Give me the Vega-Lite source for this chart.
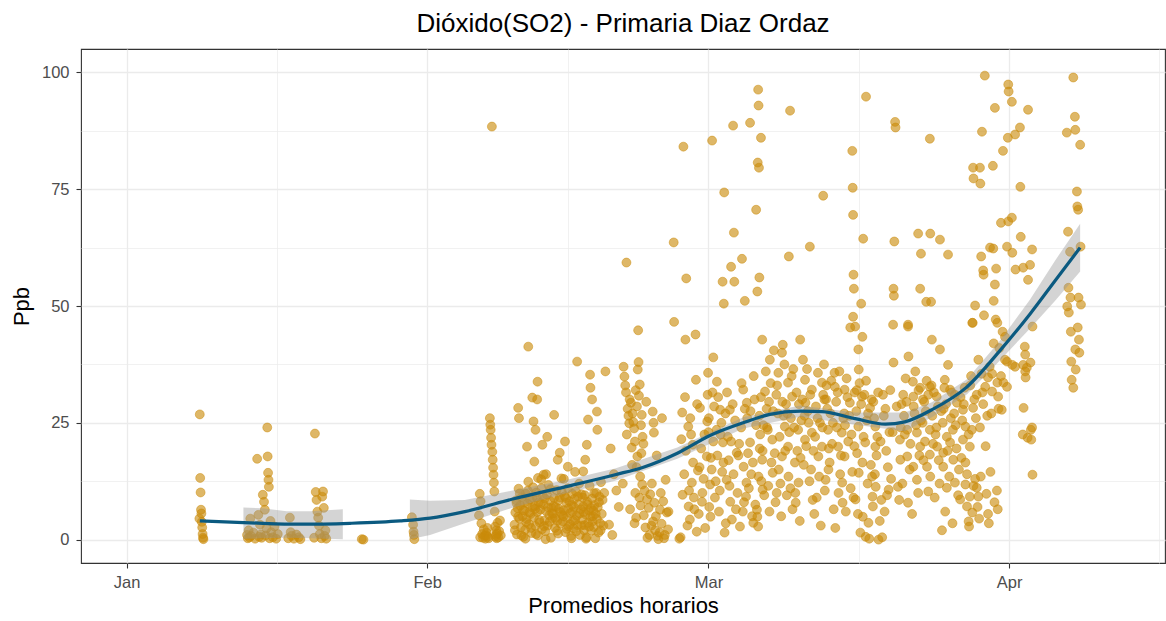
{
  "$schema": "https://vega.github.io/schema/vega-lite/v6.json",
  "autosize": {"type": "none"},
  "width": 1084,
  "height": 514,
  "padding": {"left": 81, "top": 49, "right": 1, "bottom": 58},
  "background": "white",
  "title": {"text": "Dióxido(SO2) - Primaria Diaz Ordaz", "font": "Liberation Sans", "fontSize": 26, "fontWeight": "normal", "color": "#000000", "anchor": "middle", "baseline": "alphabetic", "offset": 17.5, "dy": 26},
  "datasets": {
    "pts": [
      {"t":"2020-01-08T12:00","v":4.5},{"t":"2020-01-08T13:00","v":26.8},{"t":"2020-01-08T14:00","v":13.2},{"t":"2020-01-08T15:00","v":10.1},{"t":"2020-01-08T16:00","v":6.4},{"t":"2020-01-08T17:00","v":5.6},{"t":"2020-01-08T18:00","v":3.8},{"t":"2020-01-08T19:00","v":2.6},{"t":"2020-01-08T20:00","v":1.2},{"t":"2020-01-08T21:00","v":0.4},{"t":"2020-01-08T22:00","v":0.1},
      {"t":"2020-01-13T10:00","v":1.0},{"t":"2020-01-13T12:00","v":0.3},{"t":"2020-01-13T14:00","v":2.0},{"t":"2020-01-13T16:00","v":0.5},{"t":"2020-01-13T18:00","v":4.5},{"t":"2020-01-13T20:00","v":0.8},
      {"t":"2020-01-14T02:00","v":1.5},{"t":"2020-01-14T06:00","v":0.2},{"t":"2020-01-14T11:00","v":17.3},{"t":"2020-01-14T14:00","v":5.3},{"t":"2020-01-14T16:00","v":0.6},{"t":"2020-01-14T18:00","v":3.2},{"t":"2020-01-14T20:00","v":1.1},{"t":"2020-01-14T22:00","v":0.4},
      {"t":"2020-01-15T01:00","v":9.6},{"t":"2020-01-15T04:00","v":8.1},{"t":"2020-01-15T06:00","v":6.4},{"t":"2020-01-15T08:00","v":0.9},{"t":"2020-01-15T10:00","v":2.4},{"t":"2020-01-15T12:00","v":24.0},{"t":"2020-01-15T13:00","v":17.8},{"t":"2020-01-15T14:00","v":14.3},{"t":"2020-01-15T15:00","v":12.8},{"t":"2020-01-15T16:00","v":11.3},{"t":"2020-01-15T18:00","v":0.3},{"t":"2020-01-15T20:00","v":4.0},{"t":"2020-01-15T22:00","v":1.6},
      {"t":"2020-01-16T02:00","v":0.5},{"t":"2020-01-16T06:00","v":2.8},{"t":"2020-01-16T10:00","v":0.2},{"t":"2020-01-16T14:00","v":1.2},
      {"t":"2020-01-17T16:00","v":0.3},{"t":"2020-01-17T20:00","v":4.7},{"t":"2020-01-17T22:00","v":1.6},{"t":"2020-01-18T00:00","v":0.8},{"t":"2020-01-18T06:00","v":0.2},{"t":"2020-01-18T12:00","v":1.1},{"t":"2020-01-18T18:00","v":0.5},{"t":"2020-01-18T22:00","v":0.1},
      {"t":"2020-01-20T08:00","v":0.4},{"t":"2020-01-20T10:00","v":22.7},{"t":"2020-01-20T12:00","v":10.2},{"t":"2020-01-20T14:00","v":8.5},{"t":"2020-01-20T16:00","v":6.0},{"t":"2020-01-20T18:00","v":4.7},{"t":"2020-01-20T20:00","v":3.0},{"t":"2020-01-20T22:00","v":1.2},
      {"t":"2020-01-21T02:00","v":0.3},{"t":"2020-01-21T04:00","v":9.2},{"t":"2020-01-21T06:00","v":10.3},{"t":"2020-01-21T08:00","v":6.8},{"t":"2020-01-21T10:00","v":0.8},{"t":"2020-01-21T12:00","v":2.0},{"t":"2020-01-21T14:00","v":0.2},
      {"t":"2020-01-25T06:00","v":0.1},{"t":"2020-01-25T10:00","v":0.0},
      {"t":"2020-01-30T10:00","v":4.8},{"t":"2020-01-30T13:00","v":3.2},{"t":"2020-01-30T14:00","v":1.7},{"t":"2020-01-30T15:00","v":1.0},{"t":"2020-01-30T16:00","v":0.1},
      {"t":"2020-02-06T08:00","v":5.2},{"t":"2020-02-06T10:00","v":9.8},{"t":"2020-02-06T12:00","v":8.2},{"t":"2020-02-06T14:00","v":3.5},{"t":"2020-02-06T16:00","v":1.2},{"t":"2020-02-06T18:00","v":0.4},{"t":"2020-02-06T20:00","v":2.2},{"t":"2020-02-06T22:00","v":0.8},
      {"t":"2020-02-07T00:00","v":0.2},{"t":"2020-02-07T03:00","v":1.5},{"t":"2020-02-07T06:00","v":0.6},{"t":"2020-02-07T11:00","v":26.0},{"t":"2020-02-07T12:00","v":24.6},{"t":"2020-02-07T13:00","v":23.5},{"t":"2020-02-07T14:00","v":21.8},{"t":"2020-02-07T15:00","v":20.3},{"t":"2020-02-07T16:00","v":88.4},{"t":"2020-02-07T17:00","v":18.8},{"t":"2020-02-07T18:00","v":17.1},{"t":"2020-02-07T19:00","v":15.4},{"t":"2020-02-07T20:00","v":13.9},{"t":"2020-02-07T21:00","v":12.2},{"t":"2020-02-07T22:00","v":10.3},{"t":"2020-02-07T23:00","v":6.0},
      {"t":"2020-02-08T00:00","v":2.8},{"t":"2020-02-08T02:00","v":1.0},{"t":"2020-02-08T04:00","v":0.3},{"t":"2020-02-08T06:00","v":3.6},{"t":"2020-02-08T08:00","v":0.5},{"t":"2020-02-08T10:00","v":1.8},{"t":"2020-02-08T12:00","v":4.1},{"t":"2020-02-08T14:00","v":0.9},
      {"t":"2020-02-06T11:00","v":0.5},{"t":"2020-02-07T02:00","v":0.9},{"t":"2020-02-07T05:00","v":2.5},{"t":"2020-02-07T08:00","v":0.3},{"t":"2020-02-08T01:00","v":0.6},{"t":"2020-02-08T03:00","v":2.0},{"t":"2020-02-08T05:00","v":1.3},
      {"t":"2020-02-10T09:00","v":28.2},{"t":"2020-02-10T11:00","v":26.0},{"t":"2020-02-11T20:00","v":30.4},{"t":"2020-02-12T08:00","v":30.0},{"t":"2020-02-12T09:00","v":33.8},{"t":"2020-02-11T23:00","v":25.3},{"t":"2020-02-12T04:00","v":23.5},{"t":"2020-02-13T09:00","v":22.0},{"t":"2020-02-11T07:00","v":19.9},{"t":"2020-02-12T01:00","v":16.7},{"t":"2020-02-12T21:00","v":20.3},{"t":"2020-02-14T02:00","v":26.7},{"t":"2020-02-11T10:00","v":41.3},
      {"t":"2020-02-16T11:00","v":38.1},{"t":"2020-02-19T09:00","v":36.0},{"t":"2020-02-17T19:00","v":35.3},{"t":"2020-02-17T20:00","v":32.5},{"t":"2020-02-18T00:00","v":30.0},{"t":"2020-02-18T12:00","v":27.4},{"t":"2020-02-17T14:00","v":25.7},{"t":"2020-02-18T13:00","v":23.5},{"t":"2020-02-17T11:00","v":20.3},{"t":"2020-02-17T07:00","v":17.1},{"t":"2020-02-17T02:00","v":14.6},{"t":"2020-02-15T05:00","v":21.0},{"t":"2020-02-14T16:00","v":18.6},{"t":"2020-02-14T11:00","v":17.1},{"t":"2020-02-15T12:00","v":15.6},{"t":"2020-02-13T00:00","v":13.9},{"t":"2020-02-12T10:00","v":13.2},{"t":"2020-02-13T06:00","v":14.0},{"t":"2020-02-16T06:00","v":14.5},{"t":"2020-02-15T02:00","v":13.0},
      {"t":"2020-02-10T00:00","v":3.2},{"t":"2020-02-10T02:00","v":5.8},{"t":"2020-02-10T04:00","v":8.4},{"t":"2020-02-10T06:00","v":1.1},{"t":"2020-02-10T08:00","v":6.7},{"t":"2020-02-10T10:00","v":10.9},{"t":"2020-02-10T12:00","v":4.5},{"t":"2020-02-10T14:00","v":7.3},{"t":"2020-02-10T16:00","v":2.6},{"t":"2020-02-10T18:00","v":9.1},{"t":"2020-02-10T20:00","v":5.0},{"t":"2020-02-10T22:00","v":0.6},
      {"t":"2020-02-11T00:00","v":6.2},{"t":"2020-02-11T02:00","v":2.1},{"t":"2020-02-11T04:00","v":9.8},{"t":"2020-02-11T06:00","v":4.4},{"t":"2020-02-11T08:00","v":7.7},{"t":"2020-02-11T10:00","v":12.4},{"t":"2020-02-11T12:00","v":3.3},{"t":"2020-02-11T14:00","v":8.6},{"t":"2020-02-11T16:00","v":5.5},{"t":"2020-02-11T18:00","v":1.4},{"t":"2020-02-11T20:00","v":6.9},{"t":"2020-02-11T22:00","v":11.2},{"t":"2020-02-11T03:00","v":0.2},
      {"t":"2020-02-12T00:00","v":4.8},{"t":"2020-02-12T02:00","v":7.2},{"t":"2020-02-12T04:00","v":2.9},{"t":"2020-02-12T06:00","v":10.1},{"t":"2020-02-12T08:00","v":5.9},{"t":"2020-02-12T10:00","v":0.9},{"t":"2020-02-12T12:00","v":8.0},{"t":"2020-02-12T14:00","v":3.7},{"t":"2020-02-12T16:00","v":6.4},{"t":"2020-02-12T18:00","v":12.9},{"t":"2020-02-12T20:00","v":2.2},{"t":"2020-02-12T22:00","v":9.4},
      {"t":"2020-02-13T00:00","v":7.5},{"t":"2020-02-13T02:00","v":4.1},{"t":"2020-02-13T04:00","v":1.8},{"t":"2020-02-13T06:00","v":6.1},{"t":"2020-02-13T08:00","v":9.6},{"t":"2020-02-13T10:00","v":3.0},{"t":"2020-02-13T12:00","v":11.7},{"t":"2020-02-13T14:00","v":5.2},{"t":"2020-02-13T16:00","v":8.3},{"t":"2020-02-13T18:00","v":0.4},{"t":"2020-02-13T20:00","v":6.8},{"t":"2020-02-13T22:00","v":4.6},{"t":"2020-02-13T05:00","v":0.1},
      {"t":"2020-02-14T00:00","v":5.6},{"t":"2020-02-14T02:00","v":8.9},{"t":"2020-02-14T04:00","v":2.5},{"t":"2020-02-14T06:00","v":7.0},{"t":"2020-02-14T08:00","v":10.6},{"t":"2020-02-14T10:00","v":4.0},{"t":"2020-02-14T12:00","v":1.3},{"t":"2020-02-14T14:00","v":6.6},{"t":"2020-02-14T16:00","v":9.0},{"t":"2020-02-14T18:00","v":3.4},{"t":"2020-02-14T20:00","v":13.1},{"t":"2020-02-14T22:00","v":5.3},
      {"t":"2020-02-15T00:00","v":3.9},{"t":"2020-02-15T02:00","v":6.3},{"t":"2020-02-15T04:00","v":9.3},{"t":"2020-02-15T06:00","v":1.6},{"t":"2020-02-15T08:00","v":7.9},{"t":"2020-02-15T10:00","v":4.7},{"t":"2020-02-15T12:00","v":11.0},{"t":"2020-02-15T14:00","v":2.8},{"t":"2020-02-15T16:00","v":8.2},{"t":"2020-02-15T18:00","v":5.7},{"t":"2020-02-15T20:00","v":0.8},{"t":"2020-02-15T22:00","v":7.4},{"t":"2020-02-15T21:00","v":0.3},
      {"t":"2020-02-16T00:00","v":6.0},{"t":"2020-02-16T02:00","v":2.4},{"t":"2020-02-16T04:00","v":8.7},{"t":"2020-02-16T06:00","v":4.2},{"t":"2020-02-16T08:00","v":10.3},{"t":"2020-02-16T10:00","v":5.1},{"t":"2020-02-16T12:00","v":3.1},{"t":"2020-02-16T14:00","v":7.6},{"t":"2020-02-16T16:00","v":12.0},{"t":"2020-02-16T18:00","v":1.0},{"t":"2020-02-16T20:00","v":6.5},{"t":"2020-02-16T22:00","v":9.7},
      {"t":"2020-02-17T00:00","v":4.3},{"t":"2020-02-17T02:00","v":7.1},{"t":"2020-02-17T04:00","v":2.0},{"t":"2020-02-17T06:00","v":9.5},{"t":"2020-02-17T08:00","v":5.4},{"t":"2020-02-17T10:00","v":0.5},{"t":"2020-02-17T12:00","v":8.1},{"t":"2020-02-17T14:00","v":3.6},{"t":"2020-02-17T16:00","v":6.2},{"t":"2020-02-17T18:00","v":11.5},{"t":"2020-02-17T20:00","v":4.9},{"t":"2020-02-17T22:00","v":1.9},{"t":"2020-02-17T09:00","v":0.2},
      {"t":"2020-02-18T00:00","v":8.8},{"t":"2020-02-18T02:00","v":5.0},{"t":"2020-02-18T04:00","v":2.7},{"t":"2020-02-18T06:00","v":7.4},{"t":"2020-02-18T08:00","v":0.3},{"t":"2020-02-18T10:00","v":10.0},{"t":"2020-02-18T12:00","v":4.4},{"t":"2020-02-18T14:00","v":6.9},{"t":"2020-02-18T16:00","v":1.5},{"t":"2020-02-18T18:00","v":9.2},{"t":"2020-02-18T20:00","v":3.5},{"t":"2020-02-18T22:00","v":12.3},
      {"t":"2020-02-10T01:00","v":2.0},{"t":"2020-02-10T05:00","v":7.8},{"t":"2020-02-10T09:00","v":4.9},{"t":"2020-02-10T13:00","v":9.9},{"t":"2020-02-10T17:00","v":0.9},{"t":"2020-02-10T21:00","v":6.3},
      {"t":"2020-02-11T01:00","v":8.0},{"t":"2020-02-11T05:00","v":3.7},{"t":"2020-02-11T09:00","v":10.5},{"t":"2020-02-11T13:00","v":5.8},{"t":"2020-02-11T17:00","v":2.5},{"t":"2020-02-11T21:00","v":9.0},
      {"t":"2020-02-12T03:00","v":6.6},{"t":"2020-02-12T05:00","v":1.2},{"t":"2020-02-12T07:00","v":9.0},{"t":"2020-02-12T13:00","v":4.2},{"t":"2020-02-12T17:00","v":7.8},{"t":"2020-02-12T19:00","v":11.0},
      {"t":"2020-02-13T01:00","v":2.9},{"t":"2020-02-13T03:00","v":8.8},{"t":"2020-02-13T11:00","v":6.9},{"t":"2020-02-13T15:00","v":3.8},{"t":"2020-02-13T17:00","v":10.8},{"t":"2020-02-13T21:00","v":5.6},
      {"t":"2020-02-14T01:00","v":7.2},{"t":"2020-02-14T05:00","v":4.6},{"t":"2020-02-14T09:00","v":1.9},{"t":"2020-02-14T13:00","v":8.4},{"t":"2020-02-14T17:00","v":5.9},{"t":"2020-02-14T21:00","v":10.2},
      {"t":"2020-02-15T01:00","v":5.0},{"t":"2020-02-15T07:00","v":8.9},{"t":"2020-02-15T09:00","v":2.3},{"t":"2020-02-15T13:00","v":6.7},{"t":"2020-02-15T17:00","v":3.3},{"t":"2020-02-15T23:00","v":9.8},
      {"t":"2020-02-16T01:00","v":4.0},{"t":"2020-02-16T03:00","v":7.0},{"t":"2020-02-16T09:00","v":1.8},{"t":"2020-02-16T13:00","v":9.2},{"t":"2020-02-16T17:00","v":5.6},{"t":"2020-02-16T21:00","v":3.0},
      {"t":"2020-02-17T01:00","v":9.0},{"t":"2020-02-17T03:00","v":5.9},{"t":"2020-02-17T05:00","v":3.1},{"t":"2020-02-17T13:00","v":7.5},{"t":"2020-02-17T17:00","v":2.8},{"t":"2020-02-17T21:00","v":6.8},
      {"t":"2020-02-18T01:00","v":3.9},{"t":"2020-02-18T03:00","v":6.2},{"t":"2020-02-18T05:00","v":9.9},{"t":"2020-02-18T09:00","v":5.5},{"t":"2020-02-18T17:00","v":8.0},{"t":"2020-02-18T21:00","v":2.0},
      {"t":"2020-02-19T00:00","v":5.5},{"t":"2020-02-19T02:00","v":8.5},{"t":"2020-02-19T04:00","v":3.0},{"t":"2020-02-19T06:00","v":10.0},
      {"t":"2020-02-19T18:00","v":3.2},{"t":"2020-02-19T22:00","v":19.5},{"t":"2020-02-20T02:00","v":1.0},{"t":"2020-02-20T06:00","v":14.0},{"t":"2020-02-20T12:00","v":10.5},{"t":"2020-02-20T18:00","v":7.0},
      {"t":"2020-02-21T06:00","v":37.0},{"t":"2020-02-21T08:00","v":34.9},{"t":"2020-02-21T10:00","v":33.0},{"t":"2020-02-21T12:00","v":31.5},{"t":"2020-02-21T13:00","v":59.3},{"t":"2020-02-21T14:00","v":22.5},{"t":"2020-02-21T16:00","v":28.0},{"t":"2020-02-21T18:00","v":26.5},{"t":"2020-02-21T20:00","v":24.9},{"t":"2020-02-21T21:00","v":30.0},
      {"t":"2020-02-22T00:00","v":29.3},{"t":"2020-02-22T02:00","v":19.7},{"t":"2020-02-22T04:00","v":27.0},{"t":"2020-02-22T06:00","v":25.2},{"t":"2020-02-22T08:00","v":23.8},{"t":"2020-02-22T10:00","v":21.0},{"t":"2020-02-22T11:00","v":10.0},{"t":"2020-02-22T12:00","v":32.0},{"t":"2020-02-22T13:00","v":4.7},{"t":"2020-02-22T14:00","v":15.5},{"t":"2020-02-22T15:00","v":28.5},{"t":"2020-02-22T16:00","v":17.8},{"t":"2020-02-22T17:00","v":36.4},{"t":"2020-02-22T18:00","v":44.8},{"t":"2020-02-22T19:00","v":38.0},{"t":"2020-02-22T20:00","v":30.8},{"t":"2020-02-22T21:00","v":9.0},{"t":"2020-02-22T22:00","v":33.2},{"t":"2020-02-22T23:00","v":13.5},
      {"t":"2020-02-23T00:00","v":7.3},{"t":"2020-02-23T01:00","v":24.5},{"t":"2020-02-23T03:00","v":26.7},{"t":"2020-02-23T04:00","v":11.8},{"t":"2020-02-23T05:00","v":22.0},{"t":"2020-02-23T07:00","v":20.5},{"t":"2020-02-23T08:00","v":5.2},{"t":"2020-02-23T12:00","v":2.6},{"t":"2020-02-23T16:00","v":8.6},{"t":"2020-02-23T17:00","v":0.4},{"t":"2020-02-23T20:00","v":6.8},{"t":"2020-02-23T22:00","v":1.0},
      {"t":"2020-02-24T00:00","v":9.7},{"t":"2020-02-24T03:00","v":3.0},{"t":"2020-02-24T06:00","v":27.4},{"t":"2020-02-24T07:00","v":3.9},{"t":"2020-02-24T08:00","v":25.0},{"t":"2020-02-24T09:00","v":22.9},{"t":"2020-02-24T10:00","v":7.9},{"t":"2020-02-24T14:00","v":5.0},{"t":"2020-02-24T18:00","v":0.8},{"t":"2020-02-24T20:00","v":0.1},{"t":"2020-02-24T23:00","v":1.5},
      {"t":"2020-02-25T00:00","v":6.4},{"t":"2020-02-25T04:00","v":3.4},{"t":"2020-02-25T05:00","v":26.0},{"t":"2020-02-25T08:00","v":8.2},{"t":"2020-02-25T10:00","v":0.3},{"t":"2020-02-25T14:00","v":12.8},{"t":"2020-02-25T17:00","v":5.8},{"t":"2020-02-25T20:00","v":2.2},{"t":"2020-02-25T21:00","v":6.0},
      {"t":"2020-02-21T04:00","v":12.0},{"t":"2020-02-21T22:00","v":6.5},{"t":"2020-02-22T03:00","v":16.0},{"t":"2020-02-22T09:00","v":3.5},{"t":"2020-02-23T02:00","v":18.5},{"t":"2020-02-23T10:00","v":10.5},{"t":"2020-02-23T14:00","v":29.5},{"t":"2020-02-24T04:00","v":12.0},{"t":"2020-02-24T12:00","v":2.0},{"t":"2020-02-24T16:00","v":18.0},{"t":"2020-02-25T02:00","v":10.0},{"t":"2020-02-25T12:00","v":1.0},
      {"t":"2020-02-26T10:00","v":63.6},{"t":"2020-02-26T11:00","v":46.6},{"t":"2020-02-27T10:00","v":84.1},{"t":"2020-02-27T17:00","v":55.9},{"t":"2020-02-27T15:00","v":42.8},{"t":"2020-02-28T16:00","v":43.9},
      {"t":"2020-02-29T23:00","v":35.7},{"t":"2020-03-01T21:00","v":33.8},{"t":"2020-02-28T17:00","v":34.2},{"t":"2020-02-29T22:00","v":31.0},{"t":"2020-03-04T14:00","v":32.1},{"t":"2020-03-04T23:00","v":29.3},{"t":"2020-02-27T07:00","v":27.2},{"t":"2020-02-29T03:00","v":28.2},{"t":"2020-03-02T05:00","v":27.8},{"t":"2020-03-03T05:00","v":27.8},{"t":"2020-02-27T22:00","v":24.2},{"t":"2020-02-29T21:00","v":25.3},{"t":"2020-03-01T20:00","v":23.5},{"t":"2020-02-28T09:00","v":20.3},{"t":"2020-03-01T12:00","v":21.0},{"t":"2020-03-02T12:00","v":20.8},{"t":"2020-02-29T20:00","v":17.8},{"t":"2020-03-03T22:00","v":18.6},{"t":"2020-03-05T07:00","v":20.8},{"t":"2020-02-28T10:00","v":16.5},{"t":"2020-03-02T13:00","v":16.5},{"t":"2020-03-04T15:00","v":15.6},{"t":"2020-03-05T14:00","v":16.5},{"t":"2020-02-28T07:00","v":12.2},{"t":"2020-03-01T04:00","v":11.8},{"t":"2020-03-02T21:00","v":12.8},{"t":"2020-03-04T22:00","v":12.2},{"t":"2020-02-27T08:00","v":9.6},{"t":"2020-02-27T23:00","v":7.1},{"t":"2020-02-29T08:00","v":8.1},{"t":"2020-03-03T06:00","v":8.1},{"t":"2020-03-04T21:00","v":9.2},{"t":"2020-02-28T02:00","v":4.3},{"t":"2020-02-28T19:00","v":1.7},{"t":"2020-03-01T05:00","v":4.9},{"t":"2020-03-03T10:00","v":4.3},{"t":"2020-03-04T13:00","v":6.0},{"t":"2020-03-05T15:00","v":3.6},{"t":"2020-03-06T00:00","v":6.4},
      {"t":"2020-02-27T12:00","v":14.0},{"t":"2020-02-27T16:00","v":19.0},{"t":"2020-02-27T20:00","v":3.0},{"t":"2020-02-28T00:00","v":10.5},{"t":"2020-02-28T05:00","v":22.5},{"t":"2020-02-28T13:00","v":6.5},{"t":"2020-02-28T22:00","v":14.8},{"t":"2020-02-29T00:00","v":5.5},{"t":"2020-02-29T06:00","v":19.5},{"t":"2020-02-29T12:00","v":13.0},{"t":"2020-02-29T16:00","v":2.5},{"t":"2020-03-01T00:00","v":23.0},{"t":"2020-03-01T08:00","v":15.0},{"t":"2020-03-01T16:00","v":9.0},{"t":"2020-03-02T00:00","v":30.5},{"t":"2020-03-02T02:00","v":6.0},{"t":"2020-03-02T08:00","v":25.0},{"t":"2020-03-02T16:00","v":1.5},{"t":"2020-03-03T00:00","v":22.0},{"t":"2020-03-03T14:00","v":14.0},{"t":"2020-03-03T18:00","v":25.5},{"t":"2020-03-04T00:00","v":10.0},{"t":"2020-03-04T06:00","v":2.8},{"t":"2020-03-04T09:00","v":24.0},{"t":"2020-03-05T00:00","v":26.0},{"t":"2020-03-05T04:00","v":11.0},{"t":"2020-03-05T20:00","v":7.5},{"t":"2020-03-05T22:00","v":24.5},{"t":"2020-03-06T04:00","v":13.5},{"t":"2020-03-06T10:00","v":30.5},{"t":"2020-03-06T14:00","v":19.0},{"t":"2020-03-06T18:00","v":9.5},{"t":"2020-02-29T09:00","v":10.0},{"t":"2020-03-01T22:00","v":18.0},{"t":"2020-03-03T02:00","v":17.0},{"t":"2020-03-02T19:00","v":3.5},{"t":"2020-02-27T03:00","v":0.5},{"t":"2020-02-27T00:00","v":0.2},{"t":"2020-03-01T12:00","v":39.0},
      {"t":"2020-02-27T05:00","v":21.5},{"t":"2020-02-27T14:00","v":30.5},{"t":"2020-02-28T03:00","v":26.0},{"t":"2020-02-28T12:00","v":9.0},{"t":"2020-02-28T20:00","v":29.0},{"t":"2020-02-29T02:00","v":15.5},{"t":"2020-02-29T14:00","v":22.5},{"t":"2020-03-01T02:00","v":7.0},{"t":"2020-03-01T14:00","v":28.5},{"t":"2020-03-02T04:00","v":10.5},{"t":"2020-03-02T22:00","v":31.5},{"t":"2020-03-03T08:00","v":21.0},{"t":"2020-03-04T02:00","v":18.0},{"t":"2020-03-04T18:00","v":28.0},{"t":"2020-03-05T10:00","v":14.0},{"t":"2020-03-05T18:00","v":30.0},{"t":"2020-03-06T08:00","v":22.5},
      {"t":"2020-03-01T01:00","v":26.0},{"t":"2020-03-01T06:00","v":17.5},{"t":"2020-03-01T10:00","v":31.5},{"t":"2020-03-01T18:00","v":12.5},{"t":"2020-03-02T06:00","v":22.5},{"t":"2020-03-02T10:00","v":14.5},{"t":"2020-03-02T18:00","v":27.0},{"t":"2020-03-03T04:00","v":11.5},{"t":"2020-03-03T12:00","v":29.0},{"t":"2020-03-03T20:00","v":6.5},{"t":"2020-03-04T04:00","v":20.5},{"t":"2020-03-04T10:00","v":33.5},{"t":"2020-03-04T16:00","v":8.0},{"t":"2020-03-05T02:00","v":18.5},{"t":"2020-03-05T08:00","v":27.5},{"t":"2020-03-05T12:00","v":5.0},{"t":"2020-03-05T16:00","v":35.0},
      {"t":"2020-03-01T09:00","v":85.4},{"t":"2020-03-03T13:00","v":88.6},{"t":"2020-03-05T07:00","v":89.2},{"t":"2020-03-06T03:00","v":96.3},{"t":"2020-03-06T04:00","v":92.9},{"t":"2020-03-06T10:00","v":86.0},{"t":"2020-03-06T02:00","v":80.7},{"t":"2020-03-06T05:00","v":79.6},{"t":"2020-03-02T15:00","v":74.3},{"t":"2020-03-05T22:00","v":70.6},{"t":"2020-03-03T15:00","v":65.7},{"t":"2020-03-04T11:00","v":60.1},{"t":"2020-03-03T08:00","v":58.4},{"t":"2020-03-02T11:00","v":55.2},{"t":"2020-03-03T16:00","v":55.2},{"t":"2020-03-06T06:00","v":56.1},{"t":"2020-03-06T01:00","v":53.1},{"t":"2020-03-04T18:00","v":51.1},{"t":"2020-03-02T14:00","v":50.5},
      {"t":"2020-03-09T10:00","v":91.8},{"t":"2020-03-17T06:00","v":94.8},{"t":"2020-03-20T06:00","v":89.4},{"t":"2020-03-20T07:00","v":88.2},{"t":"2020-03-23T20:00","v":85.8},{"t":"2020-03-29T12:00","v":99.3},{"t":"2020-03-30T13:00","v":92.4},{"t":"2020-03-31T21:00","v":86.0},{"t":"2020-03-29T05:00","v":87.3},{"t":"2020-03-15T20:00","v":83.2},{"t":"2020-03-15T21:00","v":75.3},{"t":"2020-03-15T22:00","v":69.5},{"t":"2020-03-31T09:00","v":83.2},{"t":"2020-03-12T20:00","v":73.6},{"t":"2020-03-28T07:00","v":79.6},{"t":"2020-03-28T08:00","v":77.3},{"t":"2020-03-29T00:00","v":79.6},{"t":"2020-03-29T01:00","v":76.2},{"t":"2020-03-30T08:00","v":80.0},{"t":"2020-03-31T04:00","v":67.8},{"t":"2020-03-31T22:00","v":68.1},
      {"t":"2020-03-16T23:00","v":64.4},{"t":"2020-03-20T04:00","v":63.8},{"t":"2020-03-22T15:00","v":65.5},{"t":"2020-03-23T21:00","v":65.5},{"t":"2020-03-24T21:00","v":64.2},{"t":"2020-03-11T11:00","v":62.7},{"t":"2020-03-09T07:00","v":60.6},{"t":"2020-03-22T22:00","v":61.2},{"t":"2020-03-25T17:00","v":61.0},{"t":"2020-03-29T03:00","v":60.6},{"t":"2020-03-30T01:00","v":62.5},{"t":"2020-03-30T09:00","v":62.3},{"t":"2020-03-31T19:00","v":62.7},{"t":"2020-03-29T08:00","v":57.6},{"t":"2020-03-29T09:00","v":56.7},{"t":"2020-03-15T23:00","v":56.7},{"t":"2020-03-16T00:00","v":53.7},{"t":"2020-03-20T02:00","v":53.7},{"t":"2020-03-20T03:00","v":52.2},{"t":"2020-03-22T20:00","v":53.7},{"t":"2020-03-30T13:00","v":54.6},{"t":"2020-03-16T18:00","v":50.5},{"t":"2020-03-23T11:00","v":50.9},{"t":"2020-03-23T23:00","v":50.9},{"t":"2020-03-28T12:00","v":50.1},{"t":"2020-03-30T10:00","v":51.1},{"t":"2020-03-15T22:00","v":47.7},{"t":"2020-03-20T01:00","v":46.0},{"t":"2020-03-21T14:00","v":46.0},{"t":"2020-03-28T06:00","v":46.4},{"t":"2020-03-30T15:00","v":47.1},{"t":"2020-03-15T15:00","v":45.4},
      {"t":"2020-03-06T13:00","v":42.8},{"t":"2020-03-08T16:00","v":41.7},{"t":"2020-03-10T11:00","v":42.8},{"t":"2020-03-07T08:00","v":38.5},{"t":"2020-03-08T14:00","v":40.0},{"t":"2020-03-10T18:00","v":38.5},{"t":"2020-03-08T05:00","v":35.7},{"t":"2020-03-09T05:00","v":33.6},{"t":"2020-03-06T20:00","v":31.7},{"t":"2020-03-08T00:00","v":31.0},{"t":"2020-03-09T15:00","v":30.6},{"t":"2020-03-10T23:00","v":34.2},{"t":"2020-03-12T07:00","v":35.7},{"t":"2020-03-11T16:00","v":32.1},{"t":"2020-03-12T17:00","v":33.6},{"t":"2020-03-14T00:00","v":35.7},{"t":"2020-03-14T01:00","v":32.7},{"t":"2020-03-15T01:00","v":32.1},{"t":"2020-03-16T02:00","v":31.5},{"t":"2020-03-16T20:00","v":30.6},{"t":"2020-03-15T14:00","v":29.3},{"t":"2020-03-12T23:00","v":30.0},{"t":"2020-03-11T00:00","v":29.3},{"t":"2020-03-17T16:00","v":28.2},{"t":"2020-03-16T03:00","v":45.6},{"t":"2020-03-16T21:00","v":43.4},{"t":"2020-03-16T11:00","v":40.7},{"t":"2020-03-20T02:00","v":37.9},{"t":"2020-03-16T12:00","v":36.4},
      {"t":"2020-03-07T03:00","v":23.5},{"t":"2020-03-08T21:00","v":24.2},{"t":"2020-03-10T06:00","v":23.5},{"t":"2020-03-11T16:00","v":22.9},{"t":"2020-03-13T08:00","v":23.5},{"t":"2020-03-14T18:00","v":22.9},{"t":"2020-03-16T11:00","v":24.2},{"t":"2020-03-18T05:00","v":24.2},{"t":"2020-03-07T14:00","v":21.4},{"t":"2020-03-09T05:00","v":19.9},{"t":"2020-03-10T23:00","v":21.4},{"t":"2020-03-12T17:00","v":19.9},{"t":"2020-03-14T09:00","v":19.9},{"t":"2020-03-17T04:00","v":20.8},{"t":"2020-03-18T05:00","v":19.9},{"t":"2020-03-06T13:00","v":17.1},{"t":"2020-03-08T14:00","v":17.8},{"t":"2020-03-09T22:00","v":16.5},{"t":"2020-03-12T08:00","v":17.8},{"t":"2020-03-15T01:00","v":17.8},{"t":"2020-03-16T21:00","v":16.5},{"t":"2020-03-20T18:00","v":21.4},{"t":"2020-03-20T19:00","v":17.1},
      {"t":"2020-03-07T15:00","v":14.3},{"t":"2020-03-09T06:00","v":13.5},{"t":"2020-03-10T07:00","v":12.2},{"t":"2020-03-13T09:00","v":15.0},{"t":"2020-03-13T02:00","v":12.8},{"t":"2020-03-14T19:00","v":12.2},{"t":"2020-03-16T12:00","v":14.3},{"t":"2020-03-17T21:00","v":13.5},{"t":"2020-03-18T06:00","v":11.3},{"t":"2020-03-06T14:00","v":10.7},{"t":"2020-03-08T01:00","v":10.0},{"t":"2020-03-09T23:00","v":10.0},{"t":"2020-03-14T10:00","v":10.0},{"t":"2020-03-16T04:00","v":8.6},{"t":"2020-03-17T22:00","v":9.2},{"t":"2020-03-19T14:00","v":10.7},{"t":"2020-03-20T13:00","v":11.3},{"t":"2020-03-10T00:00","v":7.9},{"t":"2020-03-14T20:00","v":7.9},{"t":"2020-03-17T23:00","v":7.1},{"t":"2020-03-06T01:00","v":4.9},{"t":"2020-03-06T03:00","v":2.8},{"t":"2020-03-16T22:00","v":4.9},{"t":"2020-03-17T12:00","v":3.6},{"t":"2020-03-17T05:00","v":0.6},{"t":"2020-03-18T13:00","v":0.0},
      {"t":"2020-03-06T06:00","v":26.5},{"t":"2020-03-06T22:00","v":36.0},{"t":"2020-03-07T00:00","v":28.0},{"t":"2020-03-07T10:00","v":33.5},{"t":"2020-03-07T20:00","v":18.5},{"t":"2020-03-07T22:00","v":8.0},{"t":"2020-03-08T04:00","v":27.0},{"t":"2020-03-08T08:00","v":22.0},{"t":"2020-03-08T20:00","v":37.5},{"t":"2020-03-09T00:00","v":29.0},{"t":"2020-03-09T12:00","v":26.0},{"t":"2020-03-09T18:00","v":36.5},{"t":"2020-03-10T02:00","v":31.5},{"t":"2020-03-10T14:00","v":25.5},{"t":"2020-03-10T20:00","v":16.0},{"t":"2020-03-11T04:00","v":36.5},{"t":"2020-03-11T06:00","v":27.5},{"t":"2020-03-11T20:00","v":19.0},{"t":"2020-03-11T22:00","v":5.5},{"t":"2020-03-12T02:00","v":28.5},{"t":"2020-03-12T12:00","v":25.0},{"t":"2020-03-12T22:00","v":37.5},{"t":"2020-03-13T04:00","v":33.0},{"t":"2020-03-13T14:00","v":27.0},{"t":"2020-03-13T18:00","v":20.5},{"t":"2020-03-13T22:00","v":6.5},{"t":"2020-03-14T04:00","v":29.5},{"t":"2020-03-14T12:00","v":36.0},{"t":"2020-03-14T22:00","v":26.0},{"t":"2020-03-15T06:00","v":34.5},{"t":"2020-03-15T10:00","v":21.0},{"t":"2020-03-15T20:00","v":14.5},{"t":"2020-03-16T06:00","v":27.5},{"t":"2020-03-16T14:00","v":33.5},{"t":"2020-03-17T02:00","v":31.0},{"t":"2020-03-17T08:00","v":25.5},{"t":"2020-03-17T18:00","v":16.0},{"t":"2020-03-18T00:00","v":29.5},{"t":"2020-03-18T10:00","v":22.0},{"t":"2020-03-18T20:00","v":8.5},{"t":"2020-03-19T02:00","v":26.5},{"t":"2020-03-19T08:00","v":19.0},{"t":"2020-03-19T20:00","v":13.0},{"t":"2020-03-07T04:00","v":11.5},{"t":"2020-03-08T12:00","v":5.0},{"t":"2020-03-09T02:00","v":9.5},{"t":"2020-03-10T10:00","v":4.0},{"t":"2020-03-11T10:00","v":12.5},{"t":"2020-03-12T04:00","v":9.0},{"t":"2020-03-12T14:00","v":3.0},{"t":"2020-03-13T12:00","v":16.5},{"t":"2020-03-14T02:00","v":2.5},{"t":"2020-03-15T04:00","v":6.0},{"t":"2020-03-15T16:00","v":11.0},{"t":"2020-03-16T08:00","v":18.5},{"t":"2020-03-16T16:00","v":1.5},{"t":"2020-03-18T16:00","v":4.0},{"t":"2020-03-19T04:00","v":6.0},{"t":"2020-03-19T12:00","v":15.5},{"t":"2020-03-18T22:00","v":0.5},{"t":"2020-03-17T14:00","v":0.2},{"t":"2020-03-07T18:00","v":40.5},
      {"t":"2020-03-06T16:00","v":24.5},{"t":"2020-03-07T06:00","v":29.5},{"t":"2020-03-07T12:00","v":16.5},{"t":"2020-03-08T02:00","v":33.0},{"t":"2020-03-08T10:00","v":12.0},{"t":"2020-03-08T18:00","v":26.5},{"t":"2020-03-09T08:00","v":23.0},{"t":"2020-03-09T14:00","v":35.0},{"t":"2020-03-09T16:00","v":6.5},{"t":"2020-03-10T04:00","v":19.0},{"t":"2020-03-10T16:00","v":30.0},{"t":"2020-03-11T08:00","v":25.0},{"t":"2020-03-11T14:00","v":15.0},{"t":"2020-03-12T00:00","v":22.0},{"t":"2020-03-12T20:00","v":31.0},{"t":"2020-03-13T00:00","v":10.5},{"t":"2020-03-13T06:00","v":28.0},{"t":"2020-03-13T16:00","v":34.0},{"t":"2020-03-14T06:00","v":24.0},{"t":"2020-03-14T14:00","v":14.0},{"t":"2020-03-15T00:00","v":27.0},{"t":"2020-03-15T08:00","v":30.5},{"t":"2020-03-15T18:00","v":22.5},{"t":"2020-03-16T10:00","v":5.5},{"t":"2020-03-16T18:00","v":29.0},{"t":"2020-03-17T06:00","v":34.0},{"t":"2020-03-17T10:00","v":12.0},{"t":"2020-03-18T02:00","v":26.0},{"t":"2020-03-18T08:00","v":18.0},{"t":"2020-03-19T00:00","v":31.0},{"t":"2020-03-19T16:00","v":23.0},
      {"t":"2020-03-06T07:00","v":19.5},{"t":"2020-03-06T11:00","v":12.5},{"t":"2020-03-07T01:00","v":24.0},{"t":"2020-03-07T07:00","v":6.0},{"t":"2020-03-07T16:00","v":27.5},{"t":"2020-03-08T06:00","v":15.0},{"t":"2020-03-08T15:00","v":29.5},{"t":"2020-03-08T22:00","v":19.0},{"t":"2020-03-09T03:00","v":27.0},{"t":"2020-03-09T11:00","v":11.0},{"t":"2020-03-09T20:00","v":24.0},{"t":"2020-03-10T08:00","v":29.0},{"t":"2020-03-10T12:00","v":17.5},{"t":"2020-03-10T22:00","v":26.5},{"t":"2020-03-11T02:00","v":20.0},{"t":"2020-03-11T12:00","v":31.0},{"t":"2020-03-11T18:00","v":8.5},{"t":"2020-03-12T06:00","v":26.0},{"t":"2020-03-12T10:00","v":13.5},{"t":"2020-03-12T18:00","v":24.0},{"t":"2020-03-13T03:00","v":30.0},{"t":"2020-03-13T10:00","v":19.5},{"t":"2020-03-13T20:00","v":25.0},{"t":"2020-03-14T08:00","v":31.5},{"t":"2020-03-14T16:00","v":18.0},{"t":"2020-03-15T02:00","v":24.5},{"t":"2020-03-15T12:00","v":26.5},{"t":"2020-03-15T23:00","v":9.0},{"t":"2020-03-16T01:00","v":20.0},{"t":"2020-03-16T07:00","v":32.0},{"t":"2020-03-17T00:00","v":22.0},{"t":"2020-03-17T11:00","v":27.0},{"t":"2020-03-17T20:00","v":30.0},{"t":"2020-03-18T04:00","v":14.0},{"t":"2020-03-18T12:00","v":31.5},{"t":"2020-03-18T18:00","v":21.0},{"t":"2020-03-19T06:00","v":28.0},{"t":"2020-03-19T10:00","v":9.5},{"t":"2020-03-19T18:00","v":32.0},{"t":"2020-03-20T00:00","v":23.0},{"t":"2020-03-20T10:00","v":28.5},{"t":"2020-03-20T16:00","v":8.5},
      {"t":"2020-03-21T14:00","v":45.6},{"t":"2020-03-28T05:00","v":46.4},{"t":"2020-03-30T19:00","v":46.4},{"t":"2020-03-24T01:00","v":42.8},{"t":"2020-03-24T21:00","v":40.7},{"t":"2020-03-21T15:00","v":39.2},{"t":"2020-03-25T17:00","v":37.4},{"t":"2020-03-31T19:00","v":38.1},{"t":"2020-04-01T15:00","v":37.0},{"t":"2020-04-02T20:00","v":36.8},{"t":"2020-03-29T20:00","v":34.7},{"t":"2020-03-30T19:00","v":33.6},{"t":"2020-03-29T13:00","v":32.7},{"t":"2020-03-30T06:00","v":31.7},{"t":"2020-03-30T21:00","v":30.6},{"t":"2020-03-25T09:00","v":34.2},{"t":"2020-03-22T02:00","v":33.8},{"t":"2020-03-22T20:00","v":32.5},{"t":"2020-03-23T20:00","v":32.7},{"t":"2020-03-22T03:00","v":30.6},{"t":"2020-03-23T03:00","v":30.0},{"t":"2020-03-24T13:00","v":30.6},{"t":"2020-03-25T22:00","v":32.1},{"t":"2020-03-26T15:00","v":29.3},{"t":"2020-03-27T06:00","v":27.8},{"t":"2020-03-28T07:00","v":28.2},{"t":"2020-03-30T22:00","v":28.0},
      {"t":"2020-03-21T12:00","v":23.5},{"t":"2020-03-22T12:00","v":22.9},{"t":"2020-03-23T20:00","v":23.5},{"t":"2020-03-25T04:00","v":25.0},{"t":"2020-03-26T05:00","v":23.5},{"t":"2020-03-27T12:00","v":24.2},{"t":"2020-03-29T00:00","v":24.0},{"t":"2020-03-27T06:00","v":21.4},{"t":"2020-03-25T22:00","v":20.8},{"t":"2020-03-24T14:00","v":19.9},{"t":"2020-03-22T20:00","v":19.9},{"t":"2020-03-21T12:00","v":17.8},{"t":"2020-03-23T20:00","v":18.2},{"t":"2020-03-25T05:00","v":18.6},{"t":"2020-03-27T23:00","v":19.9},{"t":"2020-04-02T22:00","v":21.8},{"t":"2020-04-03T09:00","v":24.0},{"t":"2020-03-22T03:00","v":15.6},{"t":"2020-03-23T13:00","v":15.6},{"t":"2020-03-25T05:00","v":15.6},{"t":"2020-03-26T06:00","v":17.1},{"t":"2020-03-27T12:00","v":16.5},{"t":"2020-03-22T12:00","v":12.8},{"t":"2020-03-23T21:00","v":13.5},{"t":"2020-03-22T15:00","v":10.0},{"t":"2020-03-23T16:00","v":10.3},{"t":"2020-03-25T14:00","v":11.1},{"t":"2020-03-26T10:00","v":12.2},{"t":"2020-03-27T12:00","v":11.8},{"t":"2020-03-28T16:00","v":11.1},{"t":"2020-03-21T14:00","v":7.9},{"t":"2020-03-26T23:00","v":8.6},{"t":"2020-03-27T23:00","v":9.2},{"t":"2020-03-28T20:00","v":9.2},{"t":"2020-03-25T10:00","v":6.0},{"t":"2020-03-27T16:00","v":7.1},{"t":"2020-03-28T05:00","v":5.8},{"t":"2020-03-27T20:00","v":3.9},{"t":"2020-03-27T21:00","v":2.8},
      {"t":"2020-03-20T22:00","v":29.0},{"t":"2020-03-21T04:00","v":26.5},{"t":"2020-03-21T08:00","v":34.5},{"t":"2020-03-21T20:00","v":20.5},{"t":"2020-03-22T06:00","v":27.0},{"t":"2020-03-22T08:00","v":36.0},{"t":"2020-03-22T22:00","v":25.5},{"t":"2020-03-23T06:00","v":29.5},{"t":"2020-03-23T08:00","v":21.0},{"t":"2020-03-23T12:00","v":34.0},{"t":"2020-03-24T02:00","v":26.5},{"t":"2020-03-24T06:00","v":31.5},{"t":"2020-03-24T10:00","v":22.5},{"t":"2020-03-24T18:00","v":17.0},{"t":"2020-03-25T00:00","v":27.5},{"t":"2020-03-25T12:00","v":29.0},{"t":"2020-03-25T20:00","v":13.5},{"t":"2020-03-26T00:00","v":26.0},{"t":"2020-03-26T10:00","v":31.0},{"t":"2020-03-26T14:00","v":19.5},{"t":"2020-03-26T18:00","v":9.5},{"t":"2020-03-27T00:00","v":30.5},{"t":"2020-03-27T04:00","v":25.5},{"t":"2020-03-27T16:00","v":14.0},{"t":"2020-03-28T00:00","v":33.0},{"t":"2020-03-28T10:00","v":30.0},{"t":"2020-03-28T14:00","v":26.0},{"t":"2020-03-28T18:00","v":7.0},{"t":"2020-03-28T22:00","v":4.5},{"t":"2020-03-29T04:00","v":35.5},{"t":"2020-03-29T08:00","v":29.0},{"t":"2020-03-29T16:00","v":9.8},{"t":"2020-03-29T20:00","v":5.5},{"t":"2020-03-30T00:00","v":37.0},{"t":"2020-03-30T04:00","v":27.0},{"t":"2020-03-30T12:00","v":8.0},{"t":"2020-03-31T00:00","v":41.0},{"t":"2020-03-31T04:00","v":35.0},{"t":"2020-03-29T10:00","v":48.0},{"t":"2020-03-30T16:00","v":58.0},{"t":"2020-03-28T20:00","v":38.5},{"t":"2020-03-21T00:00","v":12.0},{"t":"2020-03-22T00:00","v":5.5},{"t":"2020-03-24T08:00","v":9.0},{"t":"2020-03-26T04:00","v":3.5},{"t":"2020-03-25T02:00","v":2.0},
      {"t":"2020-03-20T20:00","v":24.0},{"t":"2020-03-21T02:00","v":31.0},{"t":"2020-03-21T18:00","v":15.0},{"t":"2020-03-22T04:00","v":28.5},{"t":"2020-03-22T18:00","v":18.0},{"t":"2020-03-23T02:00","v":25.0},{"t":"2020-03-23T16:00","v":31.0},{"t":"2020-03-24T04:00","v":20.5},{"t":"2020-03-24T16:00","v":28.5},{"t":"2020-03-25T08:00","v":32.5},{"t":"2020-03-25T14:00","v":22.0},{"t":"2020-03-26T08:00","v":27.0},{"t":"2020-03-26T20:00","v":15.0},{"t":"2020-03-27T08:00","v":29.0},{"t":"2020-03-27T20:00","v":22.5},{"t":"2020-03-28T02:00","v":35.0},{"t":"2020-03-28T12:00","v":13.0},{"t":"2020-03-29T06:00","v":31.5},{"t":"2020-03-29T14:00","v":20.0},{"t":"2020-03-30T06:00","v":35.5},
      {"t":"2020-03-21T06:00","v":22.5},{"t":"2020-03-21T10:00","v":29.5},{"t":"2020-03-22T10:00","v":24.5},{"t":"2020-03-22T16:00","v":32.0},{"t":"2020-03-23T04:00","v":17.0},{"t":"2020-03-23T10:00","v":27.5},{"t":"2020-03-24T00:00","v":33.0},{"t":"2020-03-24T12:00","v":24.0},{"t":"2020-03-24T20:00","v":12.0},{"t":"2020-03-25T06:00","v":28.0},{"t":"2020-03-25T16:00","v":19.0},{"t":"2020-03-26T02:00","v":31.5},{"t":"2020-03-26T12:00","v":24.5},{"t":"2020-03-27T02:00","v":17.5},{"t":"2020-03-27T10:00","v":32.5},{"t":"2020-03-28T04:00","v":23.5},{"t":"2020-03-28T08:00","v":11.5},{"t":"2020-03-28T16:00","v":31.0},{"t":"2020-03-29T02:00","v":13.5},{"t":"2020-03-29T18:00","v":26.5},{"t":"2020-03-30T02:00","v":14.5},{"t":"2020-03-30T10:00","v":42.0},{"t":"2020-03-30T18:00","v":10.5},{"t":"2020-03-31T08:00","v":44.5},{"t":"2020-03-29T22:00","v":3.5},{"t":"2020-03-30T20:00","v":6.5},
      {"t":"2020-04-07T15:00","v":98.9},{"t":"2020-03-31T22:00","v":97.4},{"t":"2020-03-31T23:00","v":95.9},{"t":"2020-04-01T07:00","v":93.7},{"t":"2020-04-02T23:00","v":92.0},{"t":"2020-04-07T19:00","v":90.5},{"t":"2020-04-07T20:00","v":87.7},{"t":"2020-04-06T23:00","v":87.1},{"t":"2020-04-02T03:00","v":88.2},{"t":"2020-04-01T15:00","v":86.7},{"t":"2020-04-08T08:00","v":84.5},{"t":"2020-04-02T04:00","v":75.5},{"t":"2020-04-08T00:00","v":74.5},{"t":"2020-04-08T01:00","v":71.3},{"t":"2020-04-08T03:00","v":70.6},{"t":"2020-04-01T07:00","v":68.9},{"t":"2020-04-07T02:00","v":65.9},{"t":"2020-04-02T05:00","v":64.8},{"t":"2020-04-01T08:00","v":61.4},{"t":"2020-04-03T09:00","v":62.1},{"t":"2020-04-08T09:00","v":62.7},{"t":"2020-04-07T07:00","v":61.6},{"t":"2020-04-01T16:00","v":57.8},{"t":"2020-04-02T11:00","v":58.2},{"t":"2020-04-03T04:00","v":58.8},{"t":"2020-04-02T23:00","v":55.6},{"t":"2020-04-07T03:00","v":53.9},{"t":"2020-04-07T08:00","v":51.8},{"t":"2020-04-08T04:00","v":51.8},{"t":"2020-04-08T10:00","v":50.3},{"t":"2020-04-07T00:00","v":49.9},{"t":"2020-04-07T04:00","v":48.6},{"t":"2020-04-03T10:00","v":45.6},{"t":"2020-03-31T14:00","v":43.4},{"t":"2020-04-07T09:00","v":44.5},{"t":"2020-04-08T02:00","v":45.4},{"t":"2020-04-08T05:00","v":42.8},{"t":"2020-04-07T20:00","v":40.7},{"t":"2020-04-08T06:00","v":40.0},{"t":"2020-04-02T15:00","v":41.3},{"t":"2020-04-02T16:00","v":39.6},{"t":"2020-03-31T14:00","v":38.5},{"t":"2020-04-01T08:00","v":37.4},{"t":"2020-04-02T11:00","v":37.4},{"t":"2020-04-03T05:00","v":37.9},{"t":"2020-04-02T16:00","v":36.0},{"t":"2020-04-02T17:00","v":34.7},{"t":"2020-04-07T10:00","v":38.1},{"t":"2020-04-07T21:00","v":36.4},{"t":"2020-04-07T11:00","v":34.2},{"t":"2020-04-07T15:00","v":32.5},{"t":"2020-03-31T10:00","v":33.6},{"t":"2020-03-31T19:00","v":32.7},{"t":"2020-03-31T06:00","v":27.8},{"t":"2020-04-02T12:00","v":28.2},{"t":"2020-04-02T10:00","v":22.5},{"t":"2020-04-03T06:00","v":23.5},{"t":"2020-04-03T07:00","v":21.4},{"t":"2020-04-03T10:00","v":13.9}
    ],
    "fit": [
      {"t":"2020-01-08T13:00","v":4.0},{"t":"2020-01-13T17:00","v":3.6},{"t":"2020-01-18T21:00","v":3.3},{"t":"2020-01-24T01:00","v":3.5},{"t":"2020-01-29T05:00","v":4.0},{"t":"2020-02-01T07:00","v":4.6},{"t":"2020-02-04T21:00","v":6.0},{"t":"2020-02-10T01:00","v":8.8},{"t":"2020-02-15T05:00","v":11.3},{"t":"2020-02-20T09:00","v":13.9},{"t":"2020-02-23T07:00","v":15.5},{"t":"2020-02-26T19:00","v":18.5},{"t":"2020-03-01T04:00","v":22.3},{"t":"2020-03-04T14:00","v":25.0},{"t":"2020-03-07T08:00","v":26.8},{"t":"2020-03-10T11:00","v":27.5},{"t":"2020-03-12T17:00","v":27.4},{"t":"2020-03-16T03:00","v":25.9},{"t":"2020-03-19T06:00","v":24.7},{"t":"2020-03-21T06:00","v":25.2},{"t":"2020-03-24T01:00","v":27.8},{"t":"2020-03-27T16:00","v":32.7},{"t":"2020-03-31T02:00","v":40.5},{"t":"2020-04-03T04:00","v":48.3},{"t":"2020-04-05T17:00","v":55.3},{"t":"2020-04-08T08:00","v":62.5}
    ],
    "band": [
      {"seg":"a","t":"2020-01-13T01:00","lo":0.2,"hi":6.9},{"seg":"a","t":"2020-01-15T00:00","lo":0.3,"hi":6.7},{"seg":"a","t":"2020-01-17T12:00","lo":0.4,"hi":6.1},{"seg":"a","t":"2020-01-20T00:00","lo":0.3,"hi":6.1},{"seg":"a","t":"2020-01-23T07:00","lo":0.1,"hi":6.5},
      {"seg":"b","t":"2020-01-30T05:00","lo":0.1,"hi":8.6},{"seg":"b","t":"2020-02-01T07:00","lo":1.0,"hi":8.3},{"seg":"b","t":"2020-02-04T21:00","lo":3.5,"hi":8.5},{"seg":"b","t":"2020-02-10T01:00","lo":7.0,"hi":10.6},{"seg":"b","t":"2020-02-15T05:00","lo":9.9,"hi":12.7},{"seg":"b","t":"2020-02-20T09:00","lo":12.6,"hi":15.2},{"seg":"b","t":"2020-02-26T19:00","lo":17.3,"hi":19.7},{"seg":"b","t":"2020-03-04T14:00","lo":23.8,"hi":26.2},{"seg":"b","t":"2020-03-10T11:00","lo":26.3,"hi":28.7},{"seg":"b","t":"2020-03-16T03:00","lo":24.6,"hi":27.2},{"seg":"b","t":"2020-03-21T06:00","lo":23.2,"hi":27.2},{"seg":"b","t":"2020-03-24T01:00","lo":26.2,"hi":29.4},{"seg":"b","t":"2020-03-27T16:00","lo":31.1,"hi":34.3},{"seg":"b","t":"2020-03-31T02:00","lo":38.4,"hi":42.6},{"seg":"b","t":"2020-04-03T04:00","lo":45.2,"hi":51.4},{"seg":"b","t":"2020-04-05T17:00","lo":51.0,"hi":59.6},{"seg":"b","t":"2020-04-08T08:00","lo":57.4,"hi":67.6}
    ]
  },
  "encoding": {
    "x": {
      "field": "t", "type": "temporal",
      "scale": {"domain": [{"year": 2019, "month": 12, "date": 27, "hours": 7}, {"year": 2020, "month": 4, "date": 17, "hours": 2}], "nice": false},
      "axis": {
        "values": [{"year": 2020, "month": 1, "date": 1}, {"year": 2020, "month": 1, "date": 16, "hours": 12}, {"year": 2020, "month": 2, "date": 1}, {"year": 2020, "month": 2, "date": 15, "hours": 12}, {"year": 2020, "month": 3, "date": 1}, {"year": 2020, "month": 3, "date": 16, "hours": 12}, {"year": 2020, "month": 4, "date": 1}, {"year": 2020, "month": 4, "date": 16, "hours": 12}],
        "labelExpr": "date(datum.value) == 1 ? timeFormat(datum.value, '%b') : ''",
        "tickOpacity": {"condition": {"test": "date(datum.value) != 1", "value": 0}, "value": 1},
        "gridWidth": {"condition": {"test": "date(datum.value) != 1", "value": 0.7}, "value": 1.3},
        "labelBaseline": "alphabetic", "labelPadding": 19, "labelFlush": false, "labelOverlap": false,
        "title": "Promedios horarios", "titleY": 49, "titleBaseline": "alphabetic"
      }
    }
  },
  "layer": [
    {
      "data": {"name": "pts"},
      "mark": {"type": "point", "shape": "circle", "filled": true, "size": 80, "color": "#C98A0A", "fillOpacity": 0.62, "stroke": "#C98A0A", "strokeOpacity": 0.62, "strokeWidth": 0.8},
      "encoding": {
        "y": {
          "field": "v", "type": "quantitative",
          "scale": {"domain": [-5, 105], "nice": false, "zero": false},
          "axis": {
            "values": [0, 12.5, 25, 37.5, 50, 62.5, 75, 87.5, 100],
            "labelExpr": "datum.value % 25 == 0 ? datum.label : ''",
            "tickOpacity": {"condition": {"test": "datum.value % 25 != 0", "value": 0}, "value": 1},
            "gridWidth": {"condition": {"test": "datum.value % 25 != 0", "value": 0.7}, "value": 1.3},
            "labelPadding": 7,
            "title": "Ppb", "titleX": -60, "titleY": 257, "titleAngle": -90, "titleBaseline": "middle", "titleAlign": "center"
          }
        }
      }
    },
    {
      "data": {"name": "band"},
      "mark": {"type": "area", "color": "#999999", "opacity": 0.42},
      "encoding": {
        "y": {"field": "lo", "type": "quantitative"},
        "y2": {"field": "hi"},
        "detail": {"field": "seg", "type": "nominal"}
      }
    },
    {
      "data": {"name": "fit"},
      "mark": {"type": "line", "color": "#0B5A80", "strokeWidth": 3.2, "interpolate": "monotone"},
      "encoding": {
        "y": {"field": "v", "type": "quantitative"}
      }
    }
  ],
  "config": {
    "view": {"stroke": "#333333", "strokeWidth": 1.1},
    "axis": {"domain": false, "grid": true, "gridColor": "#EBEBEB", "tickColor": "#333333", "tickSize": 5, "tickWidth": 1.1, "labelColor": "#4D4D4D", "labelFont": "Liberation Sans", "labelFontSize": 16.5, "titleFont": "Liberation Sans", "titleFontSize": 22, "titleFontWeight": "normal", "titleColor": "#000000"}
  }
}
